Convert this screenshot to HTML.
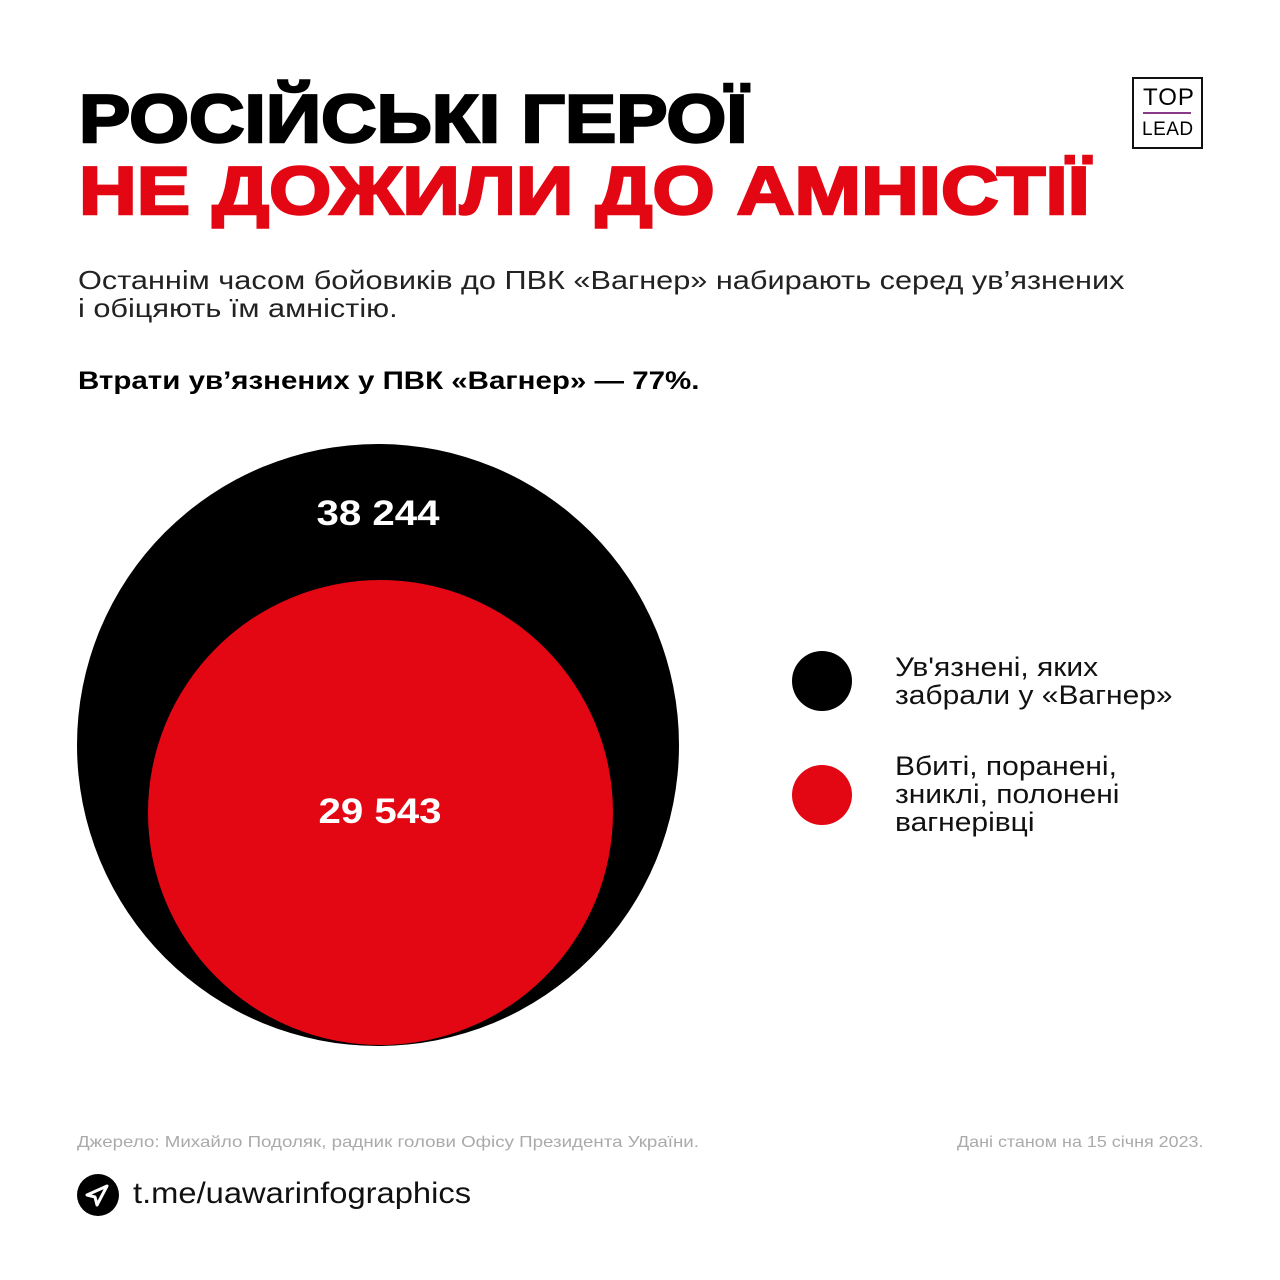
<!DOCTYPE html>
<html><head><meta charset="utf-8"><style>
body{margin:0;width:1280px;height:1280px;background:#fff;position:relative;overflow:hidden;font-family:"Liberation Sans",sans-serif;color:#000}
.a{position:absolute;white-space:nowrap;transform-origin:0 0}
.t{font-weight:bold;font-size:68px;line-height:68px;-webkit-text-stroke:2.5px currentColor}
</style></head><body>
<div class="a t" style="left:79px;top:85px;transform:scaleX(1.13)">РОСІЙСЬКІ ГЕРОЇ</div>
<div class="a t" style="left:79px;top:157px;color:#e30613;transform:scaleX(1.175)">НЕ ДОЖИЛИ ДО АМНІСТІЇ</div>
<div class="a" style="left:1132px;top:77px;width:67px;height:68px;border:2px solid #111"></div>
<div class="a" style="left:1143px;top:84px;font-size:24px;letter-spacing:1px">TOP</div>
<div class="a" style="left:1143px;top:112px;width:48px;height:2px;background:#8a3a8a"></div>
<div class="a" style="left:1142px;top:119px;font-size:19px;letter-spacing:0.5px">LEAD</div>
<div class="a" style="left:78px;top:266px;font-size:26px;line-height:28px;color:#222;transform:scaleX(1.18)">Останнім часом бойовиків до ПВК «Вагнер» набирають серед ув’язнених<br>і обіцяють їм амністію.</div>
<div class="a" style="left:78px;top:367px;font-size:25px;font-weight:bold;transform:scaleX(1.18)">Втрати ув’язнених у ПВК «Вагнер» — 77%.</div>
<div class="a" style="left:77px;top:444px;width:602px;height:602px;border-radius:50%;background:#000"></div>
<div class="a" style="left:148px;top:580px;width:465px;height:465px;border-radius:50%;background:#e30613"></div>
<div class="a" style="left:278px;top:494px;width:200px;text-align:center;font-size:35px;font-weight:bold;color:#fff;transform:scaleX(1.15);transform-origin:50% 0">38 244</div>
<div class="a" style="left:280px;top:792px;width:200px;text-align:center;font-size:35px;font-weight:bold;color:#fff;transform:scaleX(1.15);transform-origin:50% 0">29 543</div>
<div class="a" style="left:792px;top:651px;width:60px;height:60px;border-radius:50%;background:#000"></div>
<div class="a" style="left:792px;top:765px;width:60px;height:60px;border-radius:50%;background:#e30613"></div>
<div class="a" style="left:895px;top:653px;font-size:27px;line-height:28px;color:#111;transform:scaleX(1.11)">Ув'язнені, яких<br>забрали у «Вагнер»</div>
<div class="a" style="left:895px;top:752px;font-size:27px;line-height:28px;color:#111;transform:scaleX(1.11)">Вбиті, поранені,<br>зниклі, полонені<br>вагнерівці</div>
<div class="a" style="left:77px;top:1134px;font-size:16px;color:#aaa;transform:scaleX(1.17)">Джерело: Михайло Подоляк, радник голови Офісу Президента України.</div>
<div class="a" style="left:957px;top:1134px;font-size:16px;color:#aaa;transform:scaleX(1.12)">Дані станом на 15 січня 2023.</div>
<svg class="a" style="left:77px;top:1174px" width="42" height="42" viewBox="0 0 42 42"><circle cx="21" cy="21" r="21" fill="#000"/><path d="M30 12 L10 21 L18 23 L20 31 Z" fill="none" stroke="#fff" stroke-width="3" stroke-linejoin="round"/></svg>
<div class="a" style="left:133px;top:1177px;font-size:30px;color:#111;transform:scaleX(1.09)">t.me/uawarinfographics</div>
</body></html>
